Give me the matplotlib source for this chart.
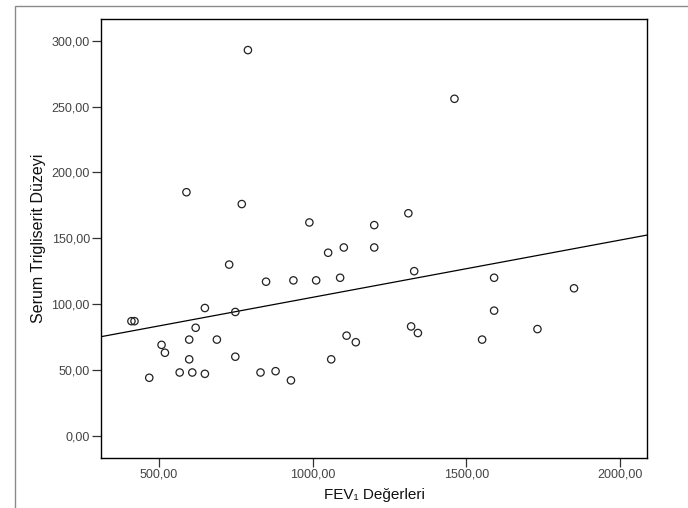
import numpy as np
import matplotlib
matplotlib.use("Agg")
import matplotlib.pyplot as plt
from matplotlib.patches import Rectangle

plt.rcParams['font.family'] = ['Liberation Sans', 'DejaVu Sans']

# FEV1 values and serum triglyceride levels
fev1 = [789, 1461, 589, 769, 1311, 989, 1200, 1050, 1101, 1200, 728,
        1330, 1089, 1590, 848, 937, 1011, 1850, 649, 748, 1590, 410,
        420, 619, 1320, 1342, 1731, 1110, 1140, 598, 688, 1551, 508,
        519, 598, 748, 1060, 567, 608, 649, 830, 879, 468, 929]
trig = [293, 256, 185, 176, 169, 162, 160, 139, 143, 143, 130,
        125, 120, 120, 117, 118, 118, 112, 97, 94, 95, 87,
        87, 82, 83, 78, 81, 76, 71, 73, 73, 73, 69,
        63, 58, 60, 58, 48, 48, 47, 48, 49, 44, 42]

# fit line as drawn in the reference (end points at the axis edges)
fit_x = [311, 2089]
fit_y = [75.2, 152.5]

x_ticks = [500, 1000, 1500, 2000]
x_labels = ["500,00", "1000,00", "1500,00", "2000,00"]
y_ticks = [0, 50, 100, 150, 200, 250, 300]
y_labels = ["0,00", "50,00", "100,00", "150,00", "200,00", "250,00", "300,00"]

fig = plt.figure(figsize=(6.88, 5.08), dpi=100)
ax = fig.add_axes([0.1468, 0.0994, 0.9411 - 0.1468, 0.962 - 0.0994])

# outer gray frame (chart border)
fig.patches.append(Rectangle((15 / 688, -0.05), 1.0, 1 - 6 / 508 + 0.05,
                             transform=fig.transFigure, fill=False,
                             edgecolor='#8a8a8a', linewidth=1.0))

ax.scatter(fev1, trig, s=28, facecolors='none', edgecolors='#222222',
           linewidths=0.9, zorder=3)

ax.plot(fit_x, fit_y, color='black', linewidth=0.9)

ax.set_xlim(fit_x)
ax.set_ylim(-16.6, 316.4)
ax.set_xticks(x_ticks)
ax.set_xticklabels(x_labels)
ax.set_yticks(y_ticks)
ax.set_yticklabels(y_labels)
ax.tick_params(direction='out', length=6.5, width=0.9, color='#333333',
               labelsize=9, labelcolor='#444444', pad=1.5)
for s in ax.spines.values():
    s.set_linewidth(1.0)
    s.set_color('black')

ax.set_xlabel("FEV\u2081 De\u011ferleri", fontsize=11, color='#111111', labelpad=5)
ax.set_ylabel("Serum Trigliserit D\u00fczeyi", fontsize=11.5, color='#111111', labelpad=4)

fig.savefig("out.png", dpi=100)
